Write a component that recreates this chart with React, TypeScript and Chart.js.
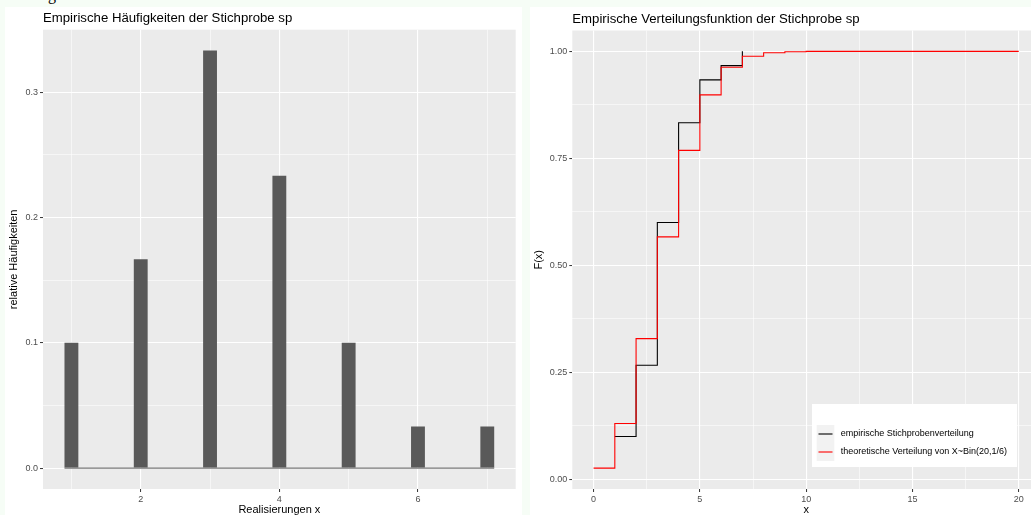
import React, { useEffect, useRef } from "react";
import { Chart, registerables } from "chart.js";

Chart.register(...registerables);

const FONT = "'Liberation Sans', Arial, Helvetica, sans-serif";

// ---------- left panel: relative frequencies ----------
const histTitle = "Empirische Häufigkeiten der Stichprobe sp";
const histXTitle = "Realisierungen x";
const histYTitle = "relative Häufigkeiten";
const histX = [1, 2, 3, 4, 5, 6, 7];
const histY = [0.1, 0.1667, 0.3333, 0.2333, 0.1, 0.0333, 0.0333];
const histBarWidth = 0.2;
const histXTicks = [1, 2, 3, 4, 5, 6, 7];
const histXLabels = ["", "2", "", "4", "", "6", ""];
const histYTicks = [0, 0.05, 0.1, 0.15, 0.2, 0.25, 0.3];
const histYLabels = ["0.0", "", "0.1", "", "0.2", "", "0.3"];

// ---------- right panel: distribution functions ----------
const cdfTitle = "Empirische Verteilungsfunktion der Stichprobe sp";
const cdfXTitle = "x";
const cdfYTitle = "F(x)";
const empX = [1, 2, 3, 4, 5, 6, 7];
const empF = [0.1, 0.2667, 0.6, 0.8333, 0.9333, 0.9667, 1.0];
const binX = [0, 1, 2, 3, 4, 5, 6, 7, 8, 9, 10, 11, 12, 13, 14, 15, 16, 17, 18, 19, 20];
const binF = [
  0.0261, 0.1304, 0.3287, 0.5665, 0.7687, 0.8982, 0.9629, 0.9887, 0.9968, 0.9992,
  0.9999, 1.0, 1.0, 1.0, 1.0, 1.0, 1.0, 1.0, 1.0, 1.0, 1.0,
];
const cdfXTicks = [0, 2.5, 5, 7.5, 10, 12.5, 15, 17.5, 20];
const cdfXLabels = ["0", "", "5", "", "10", "", "15", "", "20"];
const cdfYTicks = [0, 0.125, 0.25, 0.375, 0.5, 0.625, 0.75, 0.875, 1];
const cdfYLabels = ["0.00", "", "0.25", "", "0.50", "", "0.75", "", "1.00"];
const legendLabels = [
  "empirische Stichprobenverteilung",
  "theoretische Verteilung von X~Bin(20,1/6)",
];
const legendColors = ["#000000", "#ff0000"];

function expand(lo: number, hi: number, f = 0.05) {
  const p = (hi - lo) * f;
  return [lo - p, hi + p];
}

function makeAxis(
  ticks: number[],
  labels: string[],
  range: number[],
  title: string,
  isY: boolean,
  size: number,
  titlePad: any
) {
  return {
    type: "linear",
    min: range[0],
    max: range[1],
    offset: false,
    afterBuildTicks: (a: any) => {
      a.ticks = ticks.map((v) => ({ value: v }));
    },
    afterFit: (a: any) => {
      if (isY) a.width = size;
      else a.height = size;
    },
    ticks: {
      autoSkip: false,
      maxRotation: 0,
      minRotation: 0,
      padding: 2,
      color: "#4d4d4d",
      font: { family: FONT, size: 9 },
      callback: (_v: any, i: number) => labels[i],
    },
    grid: {
      offset: false,
      color: "#ffffff",
      lineWidth: (c: any) => (labels[c.index] ? 1.1 : 0.55),
      tickColor: (c: any) => (labels[c.index] ? "#333333" : "rgba(0,0,0,0)"),
      tickLength: 3,
      tickWidth: 1,
      drawTicks: true,
    },
    border: { display: false },
    title: {
      display: true,
      text: title,
      color: "#000000",
      font: { family: FONT, size: 11, lineHeight: 1.2 },
      padding: titlePad,
    },
  };
}

function decor(title: string) {
  return {
    id: "decor",
    beforeDraw(chart: any) {
      const { ctx, chartArea: a, width, height } = chart;
      ctx.save();
      ctx.fillStyle = "#ffffff";
      ctx.fillRect(0, 0, width, height);
      ctx.fillStyle = "#ebebeb";
      ctx.fillRect(a.left, a.top, a.right - a.left, a.bottom - a.top);
      ctx.fillStyle = "#000000";
      ctx.font = `13.2px ${FONT}`;
      ctx.textAlign = "left";
      ctx.textBaseline = "alphabetic";
      ctx.fillText(title, a.left, a.top - 8);
      ctx.restore();
    },
  };
}

const legendPlugin = {
  id: "ggLegend",
  afterDraw(chart: any) {
    const { ctx, chartArea: a } = chart;
    const w = 205;
    const h = 63;
    const left = a.right - 228;
    const top = a.bottom - 85;
    ctx.save();
    ctx.fillStyle = "#ffffff";
    ctx.fillRect(left, top, w, h);
    const keyW = 17.6;
    const keyH = 18;
    legendLabels.forEach((lab, i) => {
      const kx = left + 4.7;
      const ky = top + 21 + i * keyH;
      ctx.fillStyle = "#f2f2f2";
      ctx.fillRect(kx, ky, keyW, keyH);
      ctx.strokeStyle = legendColors[i];
      ctx.lineWidth = 1.1;
      ctx.beginPath();
      ctx.moveTo(kx + 1.8, ky + keyH / 2);
      ctx.lineTo(kx + keyW - 1.8, ky + keyH / 2);
      ctx.stroke();
      ctx.fillStyle = "#000000";
      ctx.font = `9px ${FONT}`;
      ctx.textAlign = "left";
      ctx.textBaseline = "middle";
      ctx.fillText(lab, left + 28.7, ky + keyH / 2);
    });
    ctx.restore();
  },
};

function HistChart() {
  const ref = useRef<HTMLCanvasElement>(null);
  useEffect(() => {
    const xr = expand(histX[0] - histBarWidth / 2, histX[histX.length - 1] + histBarWidth / 2);
    const yr = expand(0, Math.max(...histY));
    const chart = new Chart(ref.current as HTMLCanvasElement, {
      type: "bar",
      data: {
        datasets: [
          {
            type: "bar",
            data: histX.map((x, i) => ({ x, y: histY[i] })),
            backgroundColor: "#595959",
            borderWidth: 0,
            barPercentage: histBarWidth,
            categoryPercentage: 1,
            order: 1,
          } as any,
          {
            type: "line",
            data: [
              { x: histX[0] - histBarWidth / 2, y: 0 },
              { x: histX[histX.length - 1] + histBarWidth / 2, y: 0 },
            ],
            borderColor: "#595959",
            borderWidth: 1,
            pointRadius: 0,
            order: 0,
          } as any,
        ],
      },
      options: {
        animation: false,
        responsive: false,
        events: [],
        layout: { padding: { top: 22.7, left: 0, right: 6.3, bottom: 0 } },
        plugins: { legend: { display: false }, tooltip: { enabled: false }, title: { display: false } },
        scales: {
          x: makeAxis(histXTicks, histXLabels, xr, histXTitle, false, 33, { top: 0, bottom: 5.4 }),
          y: makeAxis(histYTicks, histYLabels, yr, histYTitle, true, 38, { top: 2.6, bottom: 0 }),
        } as any,
      },
      plugins: [decor(histTitle)],
    } as any);
    return () => chart.destroy();
  }, []);
  return <canvas ref={ref} width={517} height={515} style={{ display: "block" }} />;
}

function CdfChart() {
  const ref = useRef<HTMLCanvasElement>(null);
  useEffect(() => {
    const xr = expand(Math.min(...binX, ...empX), Math.max(...binX, ...empX));
    const yr = expand(Math.min(...binF, ...empF), Math.max(...binF, ...empF));
    const chart = new Chart(ref.current as HTMLCanvasElement, {
      type: "line",
      data: {
        datasets: [
          {
            label: legendLabels[0],
            data: empX.map((x, i) => ({ x, y: empF[i] })),
            borderColor: legendColors[0],
            borderWidth: 1.1,
            pointRadius: 0,
            stepped: "before",
            fill: false,
            order: 1,
          },
          {
            label: legendLabels[1],
            data: binX.map((x, i) => ({ x, y: binF[i] })),
            borderColor: legendColors[1],
            borderWidth: 1.1,
            pointRadius: 0,
            stepped: "before",
            fill: false,
            order: 0,
          },
        ],
      },
      options: {
        animation: false,
        responsive: false,
        events: [],
        layout: { padding: { top: 23.5, left: 0, right: 7, bottom: 0 } },
        plugins: { legend: { display: false }, tooltip: { enabled: false }, title: { display: false } },
        scales: {
          x: makeAxis(cdfXTicks, cdfXLabels, xr, cdfXTitle, false, 33, { top: 0, bottom: 5.4 }),
          y: makeAxis(cdfYTicks, cdfYLabels, yr, cdfYTitle, true, 42.3, { top: 2.2, bottom: 0 }),
        } as any,
      },
      plugins: [decor(cdfTitle), legendPlugin],
    } as any);
    return () => chart.destroy();
  }, []);
  return <canvas ref={ref} width={517} height={515} style={{ display: "block" }} />;
}

export default function App() {
  return (
    <div
      style={{
        position: "absolute",
        left: 0,
        top: 0,
        width: 1031,
        height: 515,
        overflow: "hidden",
        background: "#f6fdf6",
      }}
    >
      <span
        style={{
          position: "absolute",
          left: 48,
          top: -13.4,
          fontFamily: "'Liberation Serif', serif",
          fontSize: 16,
          lineHeight: "16px",
          color: "#000",
        }}
      >
        g
      </span>
      <div style={{ position: "absolute", left: 5, top: 7, width: 517, height: 515 }}>
        <HistChart />
      </div>
      <div style={{ position: "absolute", left: 530, top: 7, width: 517, height: 515 }}>
        <CdfChart />
      </div>
    </div>
  );
}
